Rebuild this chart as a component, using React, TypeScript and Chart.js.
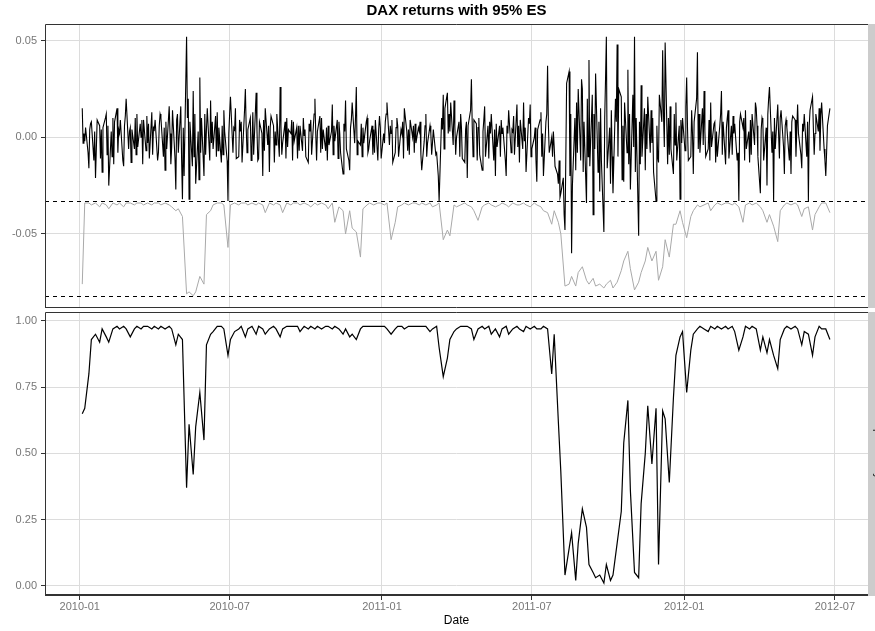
import React, { useEffect, useRef } from "react";
import { Chart, registerables } from "chart.js";

Chart.register(...registerables);

// ---------- data ----------
const TITLE = "DAX returns with 95% ES";
const X_TITLE = "Date";
const STRIP_TOP = "DAX";
const STRIP_BOTTOM = "probability";

// x axis range and ticks (dates)
const X_MIN = Date.UTC(2009, 10, 20);
const X_MAX = Date.UTC(2012, 7, 10);
const X_TICKS = [
  Date.UTC(2010, 0, 1),
  Date.UTC(2010, 6, 1),
  Date.UTC(2011, 0, 1),
  Date.UTC(2011, 6, 1),
  Date.UTC(2012, 0, 1),
  Date.UTC(2012, 6, 1),
];
const X_TICK_LABELS = ["2010-01", "2010-07", "2011-01", "2011-07", "2012-01", "2012-07"];

// first trading day; returns are daily, ES and probability every 3rd trading day
const START_DAY = Date.UTC(2010, 0, 4);
const ES_STEP_TRADING_DAYS = 3;

// DAX daily returns x 1000
const RETURNS_X1000 = [
  15, -3, 2, -2, 5, -8, -16, 4, 7, 8, -12, 3, -21, -6, 9, 6, -11, 4, -18, 5, 10, 12, -9, 6, -25, 3, -10, 10, -14, 8,
  15, -8, 4, 2, 9, -12, -15, 6, 11, 20, -6, 3, 5, -13, 4, -6, 10, -9, 12, -5, 7, 0, 9, -14, 9, -7, 11, -3, 7, -11,
  13, -9, 5, 4, 9, -12, -8, 6, 12, 10, -10, 5, -17, 8, -6, 16, 2, -14, -5, 14, -11, -27, 9, 12, -8, 16, -12, -32, 5, -20,
  52, 10, 20, -32, 8, -15, 24, -10, 12, -24, 3, -22, 31, -8, 10, -20, 12, -9, 4, 15, -12, 19, -3, 8, -6, 11, -10, 13, -7, 5,
  -13, 6, -9, 14, 3, -12, -33, 2, 12, 21, -8, 5, 4, 15, -11, -10, 9, 3, 8, -13, 14, 25, 5, -8, 4, 10, -12, -5, 13, -9,
  23, 4, -12, -11, 8, 2, -20, 9, -7, 15, -4, 6, -18, 5, 11, 6, -13, 3, -4, 12, -10, 26, 6, -9, -3, 8, -11, 10, -5, 4,
  2, 9, -12, 8, -2, 5, -11, 6, -7, 6, -7, 10, 1, 4, -10, -13, 7, 3, 9, -9, 12, 20, 2, -12, 3, 11, -8, 10, -6, 4,
  -7, 5, -12, 6, -4, 3, 17, -9, 6, -2, 9, -11, 8, 2, -8, -19, 7, 3, 19, -6, -12, -17, 5, 9, 18, -3, 10, 26, -9, -2,
  -4, 7, -10, 5, -3, 8, 10, -8, -6, -2, 6, -9, 4, -8, 9, -12, 4, 11, 5, -11, 2, -3, 8, 12, 18, -4, 6, 2, 9, -13,
  -8, 5, 10, 6, -10, 4, 2, 8, -11, 15, 3, -7, 4, -9, 9, 0, 6, -8, 7, -3, 5, 3, 8, -9, -17, -2, 6, 12, -10, -3,
  6, 2, -9, -3, 4, -9, -8, -14, -20, -33, 10, 4, 22, -6, 15, 23, 2, 12, 3, 18, -4, 19, 6, -9, 0, 8, -10, 12, 5, -11,
  -13, 4, 8, -21, 6, 14, 30, 6, -10, 9, 7, -12, 5, 10, -9, -17, 3, 9, 16, -10, 6, -11, 8, 2, 12, -12, 4, -20, 7, -5,
  6, -10, 9, 2, 5, -12, -20, 6, 2, 14, -8, 4, 3, 11, -9, 17, -5, 6, -13, 9, -6, 18, -2, 5, -18, 10, 7, 17, -10, -6,
  0, 5, -12, -23, 4, 9, 13, -10, 2, -20, 8, 12, 37, 6, -8, 0, -10, 3, -5, -15, -19, -24, -12, -31, -29, -21, -40, -48, -12, 28,
  34, -20, 12, -60, -25, 10, -17, 18, -8, 25, -12, 30, 25, -18, 8, -34, 20, -10, 40, -15, 22, -40, 12, -6, 33, -18, 8, -28, 15, -12,
  -49, 10, 30, 52, -16, 5, -24, 14, -10, -29, 20, 8, 48, -10, 25, 21, -22, 6, -23, 18, -8, 35, -14, 12, -27, 22, -5, 52, -18, 10,
  -51, 8, -14, 27, -10, 15, -17, 12, -6, 21, -8, 14, -3, 10, -18, -33, 6, -10, -13, 22, 8, 45, 12, -5, 49, -14, 10, -9, 16, -6,
  -19, 12, -4, 18, -12, 6, -32, 9, -3, 10, -7, 16, 31, 5, -12, -10, 14, 2, -19, 8, 20, 44, -6, 12, -8, 15, -4, 24, 3, -10,
  -6, 9, -12, 18, -5, 7, 8, -13, 3, -10, 6, 12, 24, -9, 8, -14, 5, 10, 14, -11, 6, -9, 11, 2, 7, -12, -8, -33, 8, 12,
  5, 10, -12, 14, -6, 3, -13, 9, -9, 12, -4, 18, 15, 6, -10, -29, 4, 10, 8, -12, 5, -25, 12, 20, 26, -8, 3, -33, 10, -6,
  17, 2, -11, 10, 14, -5, -19, 6, 9, 5, -12, 3, -19, 8, 11, 9, -10, 4, 17, 2, -9, -16, 7, 3, 12, -10, 8, -33, 6, 14,
  21, 5, -9, 2, 12, 3, 15, -7, 11, 18, -6, -12, -20, -8, 6, 15,
];

// 95% expected shortfall x 1000 (every 3rd trading day)
const ES_X1000 = [
  -76, -34, -34, -35, -34, -36, -34, -35, -37, -34,
  -35, -34, -36, -34, -34, -35, -34, -34, -35, -34,
  -35, -34, -34, -35, -34, -35, -36, -38, -37, -41,
  -81, -80, -82, -80, -72, -76, -40, -38, -35, -34,
  -34, -35, -57, -35, -34, -35, -34, -34, -35, -34,
  -35, -34, -35, -39, -34, -35, -34, -35, -39, -34,
  -35, -34, -34, -35, -34, -35, -36, -34, -35, -34,
  -35, -37, -34, -44, -36, -38, -50, -38, -47, -49,
  -62, -37, -35, -34, -35, -34, -34, -35, -34, -53,
  -44, -36, -35, -34, -35, -34, -34, -35, -34, -35,
  -34, -36, -35, -34, -53, -48, -51, -35, -36, -35,
  -34, -35, -36, -38, -43, -36, -35, -34, -35, -36,
  -35, -34, -35, -36, -34, -35, -35, -34, -35, -36,
  -34, -35, -36, -38, -39, -45, -38, -44, -50, -77,
  -76, -72, -77, -70, -67, -74, -76, -73, -77, -76,
  -78, -76, -74, -78, -75, -69, -64, -59, -68, -79,
  -75, -70, -64, -57, -64, -59, -74, -67, -53, -62,
  -45, -45, -38, -44, -52, -41, -38, -35, -36, -35,
  -34, -38, -35, -34, -35, -34, -34, -35, -34, -36,
  -44, -35, -34, -35, -34, -36, -38, -44, -40, -46,
  -54, -38, -35, -34, -35, -34, -35, -41, -37, -36,
  -48, -40, -36, -34, -34, -39,
];

// state probability x 100 (every 3rd trading day)
const PROB_X100 = [
  65, 67, 80, 93, 95, 92, 97, 94, 92, 97,
  98, 97, 98, 97, 94, 97, 98, 97, 98, 98,
  97, 98, 97, 98, 97, 98, 97, 91, 95, 93,
  37, 61, 42, 60, 73, 55, 91, 95, 96, 98,
  98, 97, 87, 93, 96, 97, 98, 94, 97, 98,
  95, 98, 97, 95, 97, 98, 97, 94, 97, 98,
  98, 98, 98, 96, 98, 97, 98, 97, 98, 97,
  98, 98, 97, 98, 97, 95, 97, 94, 95, 93,
  97, 98, 98, 98, 98, 98, 98, 98, 97, 95,
  97, 98, 98, 97, 98, 98, 98, 98, 98, 98,
  96, 97, 98, 90, 79, 86, 93, 96, 97, 98,
  98, 98, 97, 93, 97, 98, 97, 98, 95, 97,
  94, 97, 98, 95, 97, 98, 97, 96, 98, 97,
  98, 97, 97, 98, 97, 80, 95, 62, 43, 4,
  14, 20, 2, 16, 29, 22, 8, 5, 3, 4,
  1, 8, 2, 4, 16, 28, 54, 70, 36, 5,
  3, 31, 50, 68, 46, 67, 8, 66, 63, 39,
  71, 87, 94, 96, 73, 89, 95, 97, 98, 97,
  96, 98, 97, 98, 97, 98, 97, 98, 96, 89,
  94, 98, 97, 98, 97, 89, 94, 88, 93, 87,
  82, 93, 97, 98, 97, 98, 97, 91, 96, 95,
  87, 94, 98, 97, 97, 93,
];

// dashed reference levels in the returns panel
const ES_LEVELS = [-0.0329, -0.0822];

// y axes
const TOP_Y_MIN = -0.08835;
const TOP_Y_MAX = 0.05864;
const TOP_Y_TICKS = [-0.05, 0, 0.05];
const BOT_Y_MIN = -0.039;
const BOT_Y_MAX = 1.034;
const BOT_Y_TICKS = [0, 0.25, 0.5, 0.75, 1];

// ---------- styling ----------
const FONT = "'Liberation Sans', Arial, Helvetica, sans-serif";
const TICK_COLOR = "#777777";
const GRID_COLOR = "#dcdcdc";
const FRAME_COLOR = "#333333";
const STRIP_COLOR = "#cccccc";

function tradingDay(k: number): number {
  const weeks = Math.floor(k / 5);
  const rem = k % 5;
  return START_DAY + (weeks * 7 + rem) * 86400000;
}

const panelPlugin = {
  id: "panelDecor",
  afterDatasetsDraw(chart: any, _args: any, opts: any) {
    const { ctx, chartArea: a, scales } = chart;
    const levels: number[] = (opts && opts.hlines) || [];
    if (!levels.length) return;
    ctx.save();
    ctx.beginPath();
    ctx.rect(a.left, a.top, a.right - a.left, a.bottom - a.top);
    ctx.clip();
    ctx.strokeStyle = "#000000";
    ctx.lineWidth = 1;
    ctx.setLineDash([4, 4]);
    for (const v of levels) {
      const y = Math.round(scales.y.getPixelForValue(v)) + 0.5;
      ctx.beginPath();
      ctx.moveTo(a.left, y);
      ctx.lineTo(a.right, y);
      ctx.stroke();
    }
    ctx.restore();
  },
  afterDraw(chart: any, _args: any, opts: any) {
    const { ctx, chartArea: a } = chart;
    ctx.save();
    // strip on the right
    ctx.fillStyle = STRIP_COLOR;
    ctx.fillRect(a.right, a.top, chart.width - a.right, a.bottom - a.top);
    if (opts && opts.strip) {
      ctx.save();
      ctx.translate(a.right + 10, (a.top + a.bottom) / 2);
      ctx.rotate(Math.PI / 2);
      ctx.fillStyle = "#1a1a1a";
      ctx.font = `11px ${FONT}`;
      ctx.textAlign = "center";
      ctx.textBaseline = "middle";
      ctx.fillText(opts.strip, 0, 0);
      ctx.restore();
    }
    // panel frame: top, left, bottom
    ctx.strokeStyle = FRAME_COLOR;
    ctx.lineWidth = 1;
    ctx.beginPath();
    ctx.moveTo(a.right, Math.round(a.top) + 0.5);
    ctx.lineTo(Math.round(a.left) + 0.5, Math.round(a.top) + 0.5);
    ctx.lineTo(Math.round(a.left) + 0.5, Math.round(a.bottom) - 0.5);
    ctx.stroke();
    const bw = (opts && opts.bottomWidth) || 1;
    ctx.lineWidth = bw;
    ctx.beginPath();
    const yb = Math.round(a.bottom) - bw / 2;
    ctx.moveTo(Math.round(a.left), yb);
    ctx.lineTo(a.right, yb);
    ctx.stroke();
    ctx.restore();
  },
};

function noPad(s: any) {
  s.paddingTop = 0;
  s.paddingBottom = 0;
  s.paddingLeft = 0;
  s.paddingRight = 0;
}

export default function App() {
  const topRef = useRef<HTMLCanvasElement>(null);
  const botRef = useRef<HTMLCanvasElement>(null);

  useEffect(() => {
    const retData = RETURNS_X1000.map((v, k) => ({ x: tradingDay(k), y: v / 1000 }));
    const esData = ES_X1000.map((v, i) => ({
      x: tradingDay(i * ES_STEP_TRADING_DAYS),
      y: v / 1000,
    }));
    const probData = PROB_X100.map((v, i) => ({
      x: tradingDay(i * ES_STEP_TRADING_DAYS),
      y: v / 100,
    }));

    const xBase = {
      type: "linear" as const,
      min: X_MIN,
      max: X_MAX,
      afterBuildTicks: (s: any) => {
        s.ticks = X_TICKS.map((v) => ({ value: v }));
      },
    };

    const tickFont = { family: FONT, size: 11 };

    const top = new Chart(topRef.current as HTMLCanvasElement, {
      type: "line",
      data: {
        datasets: [
          {
            label: "returns",
            data: retData,
            borderColor: "#000000",
            borderWidth: 1.1,
            pointRadius: 0,
            tension: 0,
          },
          {
            label: "ES",
            data: esData,
            borderColor: "#a9a9a9",
            borderWidth: 1,
            pointRadius: 0,
            tension: 0,
          },
        ],
      },
      options: {
        responsive: false,
        animation: false,
        events: [],
        layout: { padding: { left: 0, right: 7, top: 0, bottom: 0 } },
        plugins: {
          legend: { display: false },
          tooltip: { enabled: false },
          title: {
            display: true,
            text: TITLE,
            fullSize: false,
            color: "#000000",
            font: { family: FONT, size: 15, weight: "bold" },
            padding: { top: 2, bottom: 4 },
          },
          panelDecor: { hlines: ES_LEVELS, strip: STRIP_TOP, bottomWidth: 1 },
        } as any,
        scales: {
          x: {
            ...xBase,
            ticks: { display: false },
            grid: { color: GRID_COLOR, drawTicks: false, lineWidth: 1 },
            border: { display: false },
            afterFit: (s: any) => {
              s.height = 2;
              noPad(s);
            },
          },
          y: {
            min: TOP_Y_MIN,
            max: TOP_Y_MAX,
            afterBuildTicks: (s: any) => {
              s.ticks = TOP_Y_TICKS.map((v) => ({ value: v }));
            },
            ticks: {
              callback: (v: any) => Number(v).toFixed(2),
              color: TICK_COLOR,
              font: tickFont,
              padding: 4,
            },
            grid: { color: GRID_COLOR, tickLength: 4, tickColor: FRAME_COLOR, lineWidth: 1 },
            border: { display: false },
            afterFit: (s: any) => {
              s.width = 45;
              noPad(s);
            },
          },
        } as any,
      },
      plugins: [panelPlugin as any],
    });

    const bottom = new Chart(botRef.current as HTMLCanvasElement, {
      type: "line",
      data: {
        datasets: [
          {
            label: "probability",
            data: probData,
            borderColor: "#000000",
            borderWidth: 1.2,
            pointRadius: 0,
            tension: 0,
          },
        ],
      },
      options: {
        responsive: false,
        animation: false,
        events: [],
        layout: { padding: { left: 0, right: 7, top: 2, bottom: 0 } },
        plugins: {
          legend: { display: false },
          tooltip: { enabled: false },
          title: { display: false },
          panelDecor: { hlines: [], strip: STRIP_BOTTOM, bottomWidth: 2 },
        } as any,
        scales: {
          x: {
            ...xBase,
            ticks: {
              callback: (_v: any, i: number) => X_TICK_LABELS[i],
              color: TICK_COLOR,
              font: tickFont,
              padding: 0,
              maxRotation: 0,
              autoSkip: false,
            },
            grid: { color: GRID_COLOR, tickLength: 4, tickColor: FRAME_COLOR, lineWidth: 1 },
            border: { display: false },
            title: {
              display: true,
              text: X_TITLE,
              color: "#000000",
              font: { family: FONT, size: 12 },
              padding: { top: 0, bottom: 3 },
            },
            afterFit: (s: any) => {
              s.height = 35;
              noPad(s);
            },
          },
          y: {
            min: BOT_Y_MIN,
            max: BOT_Y_MAX,
            afterBuildTicks: (s: any) => {
              s.ticks = BOT_Y_TICKS.map((v) => ({ value: v }));
            },
            ticks: {
              callback: (v: any) => Number(v).toFixed(2),
              color: TICK_COLOR,
              font: tickFont,
              padding: 4,
            },
            grid: { color: GRID_COLOR, tickLength: 4, tickColor: FRAME_COLOR, lineWidth: 1 },
            border: { display: false },
            afterFit: (s: any) => {
              s.width = 45;
              noPad(s);
            },
          },
        } as any,
      },
      plugins: [panelPlugin as any],
    });

    return () => {
      top.destroy();
      bottom.destroy();
    };
  }, []);

  return (
    <div
      style={{
        position: "absolute",
        left: 0,
        top: 0,
        width: 875,
        height: 631,
        background: "#ffffff",
        overflow: "hidden",
      }}
    >
      <canvas
        ref={topRef}
        width={875}
        height={310}
        style={{ position: "absolute", left: 0, top: 0, width: 875, height: 310 }}
      />
      <canvas
        ref={botRef}
        width={875}
        height={321}
        style={{ position: "absolute", left: 0, top: 310, width: 875, height: 321 }}
      />
    </div>
  );
}
